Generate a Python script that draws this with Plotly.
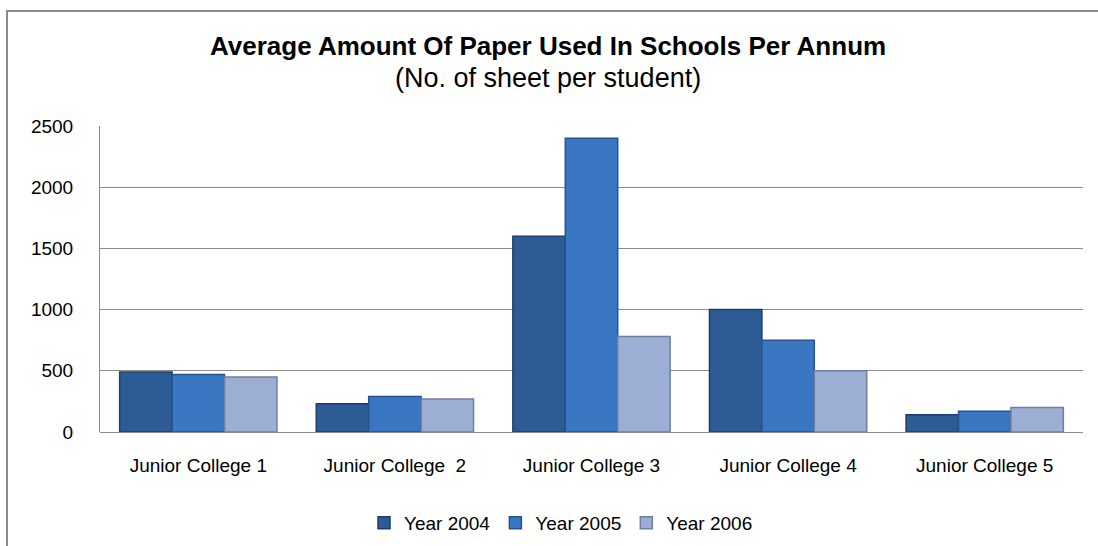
import plotly.graph_objects as go

categories = ["Junior College 1", "Junior College \u00a02", "Junior College 3", "Junior College 4", "Junior College 5"]
series_names = ["Year 2004", "Year 2005", "Year 2006"]
year_2004 = [490, 230, 1600, 1000, 140]
year_2005 = [470, 290, 2400, 750, 170]
year_2006 = [450, 270, 780, 500, 200]
y_ticks = [0, 500, 1000, 1500, 2000, 2500]

fills = ["#2C5B96", "#3A77C2", "#9CAED3"]
edges = ["#1E3F6B", "#25548F", "#6E7F9F"]

W, H = 1098, 546
L, R, T, B = 100, 15, 126, 114
pw, ph = W - L - R, H - T - B

fig = go.Figure()
for name, vals, fc, ec in zip(series_names, [year_2004, year_2005, year_2006], fills, edges):
    fig.add_trace(go.Bar(
        x=categories, y=vals, name=name,
        marker=dict(color=fc, line=dict(color=ec, width=1.5)),
    ))

def px_to_paper_x(p):
    return (p - L) / pw

def px_to_paper_y(p):
    return (H - B - p) / ph

FONT = "Liberation Sans, Arial, sans-serif"

fig.update_layout(
    width=W, height=H,
    margin=dict(l=L, r=R, t=T, b=B, autoexpand=False),
    paper_bgcolor="white", plot_bgcolor="white",
    barmode="group", bargap=0.2, bargroupgap=0,
    font=dict(family=FONT, size=19, color="#000000"),
    showlegend=True,
    legend=dict(
        orientation="h", x=px_to_paper_x(561), xanchor="center", xref="paper",
        y=px_to_paper_y(523), yanchor="middle", yref="paper",
        font=dict(size=19), itemwidth=30, traceorder="normal",
    ),
    xaxis=dict(
        showgrid=False, showline=False, zeroline=False,
        ticks="", ticklabelstandoff=20, tickfont=dict(size=19),
    ),
    yaxis=dict(
        range=[0, 2500], tickvals=y_ticks,
        showgrid=True, gridcolor="#8C8C8C", gridwidth=1,
        showline=True, linecolor="#8C8C8C", linewidth=1,
        zeroline=True, zerolinecolor="#8C8C8C", zerolinewidth=1,
        ticks="", ticklabelstandoff=22, tickfont=dict(size=19),
    ),
    annotations=[
        dict(text="<b>Average Amount Of Paper Used In Schools Per Annum</b>",
             xref="paper", yref="paper", x=px_to_paper_x(548), y=px_to_paper_y(46),
             xanchor="center", yanchor="middle", showarrow=False,
             font=dict(family=FONT, size=26, color="#000000")),
        dict(text="(No. of sheet per student)",
             xref="paper", yref="paper", x=px_to_paper_x(548), y=px_to_paper_y(78),
             xanchor="center", yanchor="middle", showarrow=False,
             font=dict(family=FONT, size=27, color="#000000")),
    ],
    shapes=[
        dict(type="line", xref="paper", yref="paper",
             x0=px_to_paper_x(7), x1=px_to_paper_x(7),
             y0=px_to_paper_y(H + 5), y1=px_to_paper_y(11),
             line=dict(color="#8C8C8C", width=2)),
        dict(type="line", xref="paper", yref="paper",
             x0=px_to_paper_x(6), x1=px_to_paper_x(W + 5),
             y0=px_to_paper_y(11), y1=px_to_paper_y(11),
             line=dict(color="#8C8C8C", width=2)),
    ],
)

fig.write_html("out.html", config={"displayModeBar": False},
               post_script="document.body.style.margin='0';document.body.style.overflow='hidden';")
